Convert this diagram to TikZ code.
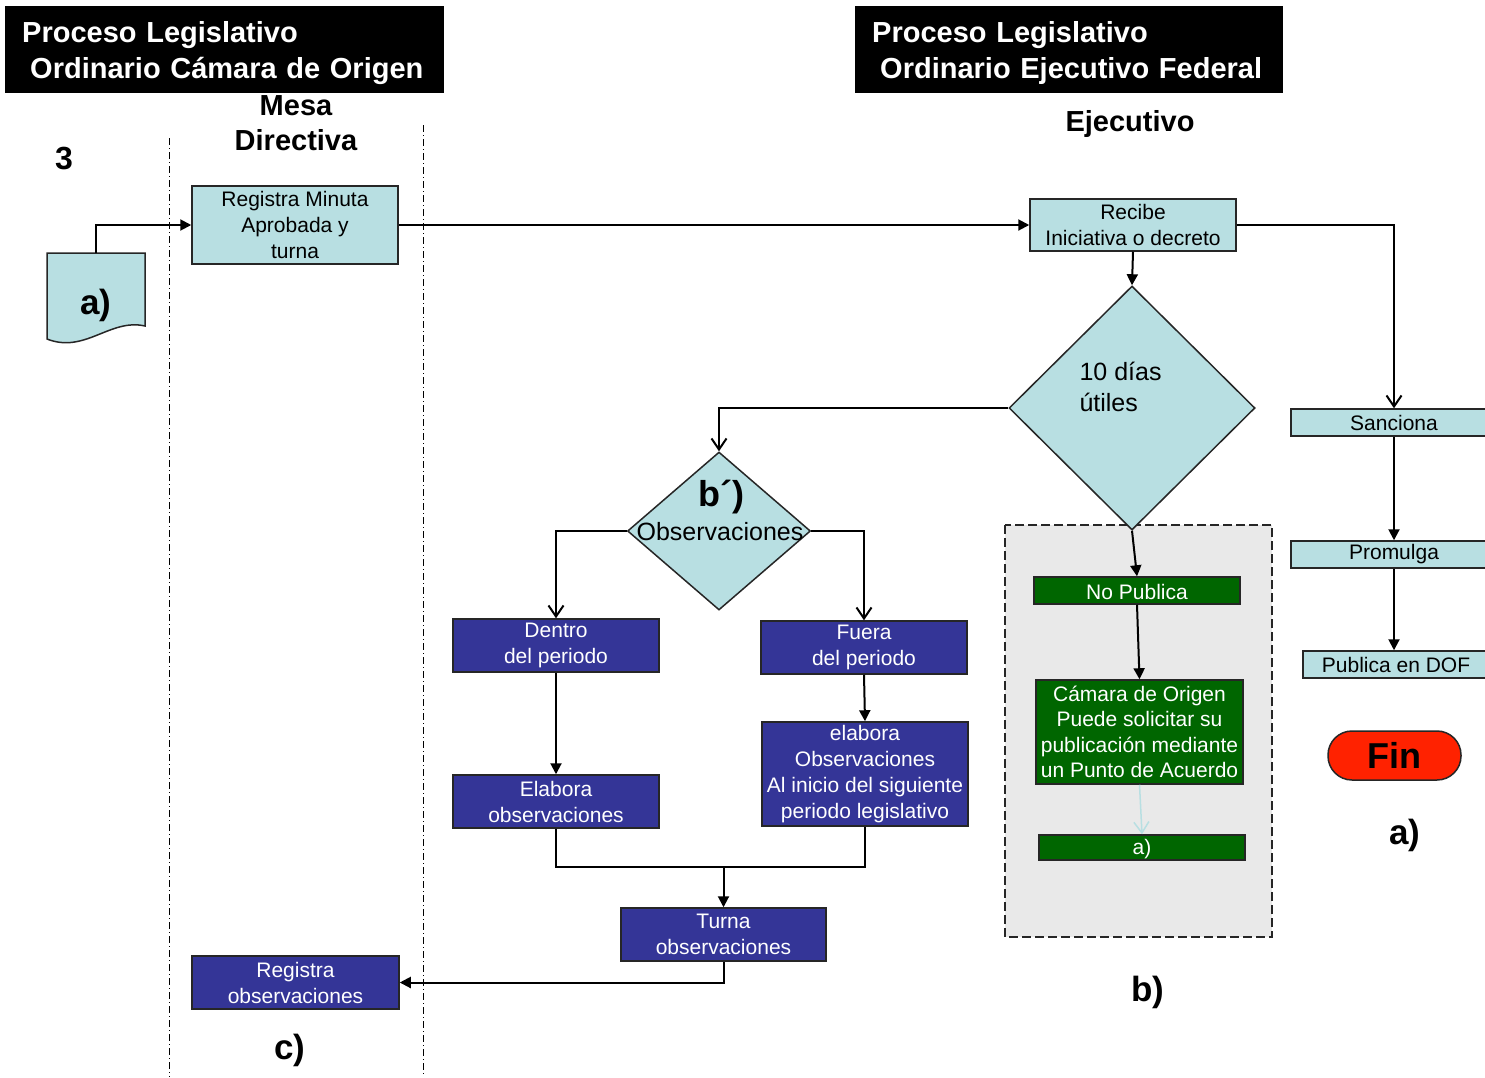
\documentclass[tikz,border=0pt]{standalone}
\usepackage{fontspec}
\setmainfont{Liberation Sans}
\usetikzlibrary{arrows.meta,shapes.geometric}
\definecolor{lbl}{HTML}{B8DFE2}
\definecolor{dbl}{HTML}{343597}
\definecolor{grn}{HTML}{006600}
\definecolor{finred}{HTML}{FF2200}
\definecolor{zone}{HTML}{E9E9E9}
\tikzset{
 box/.style={draw=black!85, line width=1.5pt, inner sep=1pt, align=center, font=\fontsize{21}{26}\selectfont},
 lbox/.style={box, fill=lbl, text=black},
 dbox/.style={box, fill=dbl, text=white, minimum width=206pt, minimum height=53pt},
 gbox/.style={box, fill=grn, text=white},
 lower/.style={execute at begin node={\rule{0pt}{#1}}},
 conn/.style={line width=2pt, draw=black},
 tri/.style={conn, -{Triangle[length=11pt,width=11pt]}},
 barb/.style={conn, -{Straight Barb[length=11pt,width=15pt]}},
 titlebox/.style={fill=black, text=white, anchor=north west, align=left, font=\bfseries\fontsize{29}{36}\selectfont, inner xsep=17pt, inner ysep=0pt, minimum height=87pt, lower=27pt},
 head/.style={font=\bfseries\fontsize{29}{35}\selectfont, align=center},
 big/.style={font=\bfseries\fontsize{35}{40}\selectfont},
 lane/.style={line width=0.9pt, dash pattern=on 7pt off 3pt on 1pt off 3pt},
 dia/.style={diamond, draw=black!85, line width=1.5pt, fill=lbl, inner sep=0pt}
}
\begin{document}
\begin{tikzpicture}[x=1pt,y=-1pt]
\useasboundingbox (0,0) rectangle (1485,1077);
\fill[white] (0,0) rectangle (1485,1077);
\clip (0,0) rectangle (1485,1077);

% titles
\node[titlebox, text width=405pt] (t1) at (5,6) {Proceso Legislativo\\\hspace*{8pt}Ordinario Cámara de Origen};
\node[titlebox, text width=394pt] (t2) at (855,6) {Proceso Legislativo\\\hspace*{8pt}Ordinario Ejecutivo Federal};
\node[head] (mesa) at (296,123) {Mesa\\Directiva};
\node[head] (eje) at (1130,124) {Ejecutivo};
\node[font=\bfseries\fontsize{32}{36}\selectfont] (n3) at (64,159) {3};

% lanes
\draw[lane] (169,138) -- (169,1077);
\draw[lane] (423,125) -- (423,1077);

% gray zone
\fill[zone] (1005,525) rectangle (1272,937);
\draw[line width=1.5pt, draw=black!85, dash pattern=on 9pt off 4pt] (1005,525) rectangle (1272,937);

% document a)
\draw[line width=1.5pt, fill=lbl, draw=black!85] (47,253) -- (145,253) -- (145,326) .. controls (110,318) and (85,354) .. (47,339) -- cycle;
\node[big] (doca) at (96,305) {a)};
\coordinate (doctop) at (96,253);

% light blue boxes
\node[lbox, minimum width=206pt, minimum height=78pt, lower=19pt] (reg) at (295,225) {Registra Minuta\\Aprobada y\\turna};
\node[lbox, minimum width=206pt, minimum height=52pt, lower=19pt] (rec) at (1133,225) {Recibe\\Iniciativa o decreto};
\node[lbox, minimum width=206pt, minimum height=27pt] (san) at (1394,422.5) {Sanciona};
\node[lbox, minimum width=206pt, minimum height=27pt] (pro) at (1394,554.5) {Promulga};
\node[lbox, minimum width=186pt, minimum height=27pt] (pub) at (1396,664.5) {Publica en DOF};

% diamonds
\node[dia, minimum width=246pt, minimum height=244pt] (d10) at (1132,408) {};
\node[font=\fontsize{25}{31}\selectfont, align=left, anchor=west] (d10t) at (1076,387) {10 días\\útiles};
\node[dia, minimum width=183pt, minimum height=158pt] (bobs) at (719,531) {};
\node[font=\bfseries\fontsize{36}{40}\selectfont] (bt) at (721,497) {b´)};
\node[font=\fontsize{25}{30}\selectfont] (bo) at (720,532) {Observaciones};

% dark blue boxes
\node[dbox, lower=23pt] (den) at (556,645.5) {Dentro\\del periodo};
\node[dbox, lower=23pt] (fue) at (864,647.5) {Fuera\\del periodo};
\node[dbox] (ela) at (556,801.5) {Elabora\\observaciones};
\node[dbox, minimum height=104pt, inner ysep=0pt, lower=22pt] (ela2) at (865,774) {elabora\\Observaciones\\Al inicio del siguiente\\periodo legislativo};
\node[dbox, minimum width=205pt] (tur) at (723.5,934.5) {Turna\\observaciones};
\node[dbox, minimum width=207pt] (rob) at (295.5,982.5) {Registra\\observaciones};
\coordinate (join) at (723.5,867);

% green boxes
\node[gbox, minimum width=206pt, minimum height=27pt, lower=18pt] (nop) at (1137,590.5) {No Publica};
\node[gbox, minimum width=207pt, minimum height=104pt, inner ysep=0pt, font=\fontsize{21}{25.5}\selectfont] (cam) at (1139.5,732) {Cámara de Origen\\Puede solicitar su\\publicación mediante\\un Punto de Acuerdo};
\node[gbox, minimum width=206pt, minimum height=25pt, lower=18pt] (ga) at (1142,847.5) {a)};

% Fin and labels
\node[draw=black!85, line width=1.5pt, fill=finred, rounded corners=24pt, minimum width=133pt, minimum height=49pt, font=\bfseries\fontsize{36}{40}\selectfont] (fin) at (1394.5,755.5) {Fin};
\node[big] (la) at (1405,835) {a)};
\node[big] (lbb) at (1148,992) {b)};
\node[big] (lcc) at (290,1050) {c)};

% connectors
\draw[tri] (doctop) |- (reg.west);
\draw[tri] (reg.east) -- (rec.west);
\draw[barb] (rec.east) -| (san.north);
\draw[tri] (san.south) -- (pro.north);
\draw[tri] (pro.south) -- (pub.north -| pro.south);
\draw[tri] (rec.south) -- (d10.north);
\draw[barb] (d10.west) -| (bobs.north);
\draw[barb] (bobs.west) -| (den.north);
\draw[barb] (bobs.east) -| (fue.north);
\draw[tri] (den.south) -- (ela.north);
\draw[tri] (fue.south) -- (ela2.north);
\draw[conn] (ela.south) |- (join) -| (ela2.south);
\draw[tri] (join) -- (tur.north);
\draw[tri] (tur.south) |- (rob.east);
\draw[tri] (d10.south) -- (nop.north);
\draw[tri] (nop.south) -- (cam.north);
\draw[barb, draw=lbl, line width=1.5pt] (cam.south) -- (ga.north);
\end{tikzpicture}
\end{document}
